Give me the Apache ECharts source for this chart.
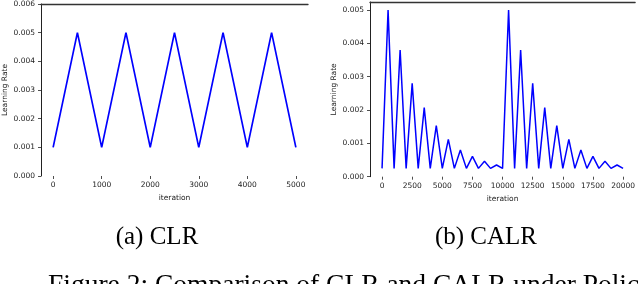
<!DOCTYPE html>
<html>
<head>
<meta charset="utf-8">
<script src="https://cdn.jsdelivr.net/npm/echarts@6/dist/echarts.min.js"></script>
<style>
html,body{margin:0;padding:0;background:#fff;}
#c{width:638px;height:284px;}
</style>
</head>
<body>
<div id="c"></div>
<script>
// CLR (cyclical learning rate) - sampled every 500 iterations
const clrIter = [0,500,1000,1500,2000,2500,3000,3500,4000,4500,5000];
const clrLR   = [0.001,0.005,0.001,0.005,0.001,0.005,0.001,0.005,0.001,0.005,0.001];

// CALR (cosine annealing learning rate) - sampled every 500 iterations
const calrIter = [0,500,1000,1500,2000,2500,3000,3500,4000,4500,5000,5500,6000,6500,7000,7500,8000,8500,9000,9500,
  10000,10500,11000,11500,12000,12500,13000,13500,14000,14500,15000,15500,16000,16500,17000,17500,18000,18500,19000,19500,20000];
const calrLR = [0.00025,0.005,0.00025,0.0038,0.00025,0.0028,0.00025,0.00207,0.00025,0.00153,0.00025,0.00112,0.00025,0.0008,0.00025,0.00061,0.00025,0.00046,0.00025,0.00035,
  0.00025,0.005,0.00025,0.0038,0.00025,0.0028,0.00025,0.00207,0.00025,0.00153,0.00025,0.00112,0.00025,0.0008,0.00025,0.00061,0.00025,0.00046,0.00025,0.00035,0.00025];

// tick labels
const clrXTicks = [0,1000,2000,3000,4000,5000];
const calrXTicks = [0,2500,5000,7500,10000,12500,15000,17500,20000];
const clrYTicks = [0,0.001,0.002,0.003,0.004,0.005,0.006];
const calrYTicks = [0,0.001,0.002,0.003,0.004,0.005];

const axisFont = {fontFamily:'DejaVu Sans', fontSize:7.5, color:'#222'};

function xAxisBase(gridIndex, min, max, ticks){
  return {
    type:'value', gridIndex, min, max, position:'bottom',
    name:'iteration', nameLocation:'middle', nameGap:16,
    nameTextStyle:axisFont,
    axisLine:{show:false},
    axisTick:{show:true, length:3, lineStyle:{color:'#222', width:0.8}, customValues:ticks},
    axisLabel:Object.assign({margin:5, customValues:ticks, formatter:v=>String(v)}, axisFont),
    splitLine:{show:false}
  };
}
function topAxis(gridIndex, min, max){
  return {
    type:'value', gridIndex, min, max, position:'top',
    axisLine:{show:true, onZero:false, lineStyle:{color:'#333', width:1.3}},
    axisTick:{show:false}, axisLabel:{show:false}, splitLine:{show:false}
  };
}
function yAxisBase(gridIndex, min, max, ticks){
  return {
    type:'value', gridIndex, min, max,
    name:'Learning Rate', nameLocation:'middle', nameGap:32,
    nameTextStyle:axisFont,
    axisLine:{show:true, onZero:false, lineStyle:{color:'#222', width:1}},
    axisTick:{show:true, length:3, lineStyle:{color:'#222', width:0.8}, customValues:ticks},
    axisLabel:Object.assign({margin:6, customValues:ticks, formatter:v=>v.toFixed(3)}, axisFont),
    splitLine:{show:false}
  };
}

const chart = echarts.init(document.getElementById('c'), null, {renderer:'canvas'});
chart.setOption({
  animation:false,
  backgroundColor:'#fff',
  grid:[
    {left:41, right:330, top:2.5, bottom:108},
    {left:370, right:1, top:2, bottom:107.3}
  ],
  xAxis:[
    xAxisBase(0, -250, 5250, clrXTicks),
    xAxisBase(1, -1000, 21000, calrXTicks),
    topAxis(0, -250, 5250),
    topAxis(1, -1000, 21000)
  ],
  yAxis:[
    yAxisBase(0, 0, 0.006, clrYTicks),
    yAxisBase(1, 0, 0.00524, calrYTicks)
  ],
  series:[
    {type:'line', xAxisIndex:0, yAxisIndex:0, data:clrIter.map((x,i)=>[x,clrLR[i]]),
     showSymbol:false, lineStyle:{color:'#0000ff', width:1.7}},
    {type:'line', xAxisIndex:1, yAxisIndex:1, data:calrIter.map((x,i)=>[x,calrLR[i]]),
     showSymbol:false, lineStyle:{color:'#0000ff', width:1.5}}
  ],
  graphic:[
    {type:'text', style:{text:'(a) CLR', x:157, y:237, font:'25px "Liberation Serif"', fill:'#000', align:'center', verticalAlign:'middle'}},
    {type:'text', style:{text:'(b) CALR', x:486, y:237, font:'25px "Liberation Serif"', fill:'#000', align:'center', verticalAlign:'middle'}},
    {type:'text', style:{text:'Figure 2: Comparison of CLR and CALR under Policy', x:48, y:272, font:'27.5px "Liberation Serif"', fill:'#000', align:'left', verticalAlign:'top'}}
  ]
});
</script>
</body>
</html>
